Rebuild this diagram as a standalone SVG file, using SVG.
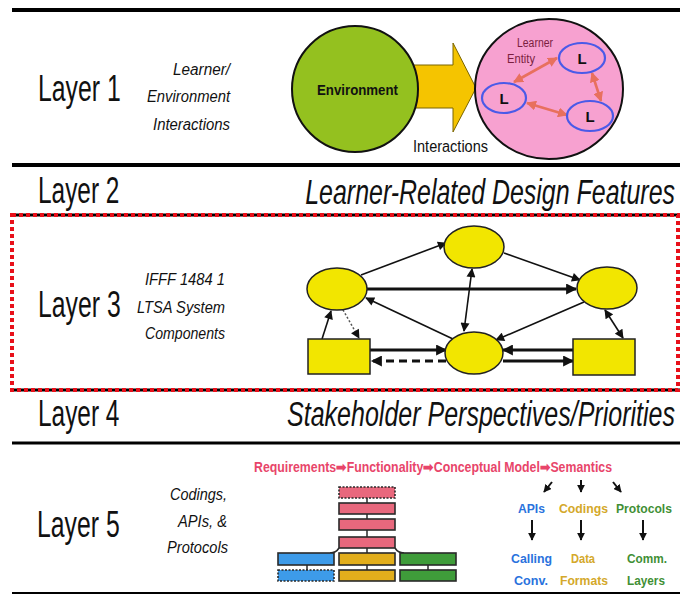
<svg xmlns="http://www.w3.org/2000/svg" width="680" height="595" viewBox="0 0 680 595">
<style>
text{font-family:"Liberation Sans Narrow","Arial Narrow","Liberation Sans",Arial,sans-serif;fill:#111}
.big{font-size:37px}
.sub{font-size:16px;font-style:italic}
.head{font-size:36px;font-style:italic;text-anchor:end}
.sep{stroke:#000;fill:none}
.n3{fill:#f2e600;stroke:#222;stroke-width:1.5}
.thin{stroke:#111;stroke-width:1.6;fill:none}
.thick{stroke:#111;stroke-width:3.2;fill:none}
.sal{stroke:#e8705e;stroke-width:2.6;fill:none}
.lb{fill:#f7a1d0;stroke:#4a5ae8;stroke-width:2.2}
.L{font-size:15px;font-weight:bold;text-anchor:middle;font-family:"Liberation Sans",Arial,sans-serif}
.bar{stroke:#2a2a2a;stroke-width:1.6}
.k5{font-size:13px;font-weight:bold}
</style>
<defs>
<marker id="ah" viewBox="0 0 10 10" refX="9" refY="5" markerWidth="10" markerHeight="9" markerUnits="userSpaceOnUse" orient="auto-start-reverse"><path d="M0,0 L10,5 L0,10 z" fill="#111"/></marker>
<marker id="ahB" viewBox="0 0 10 10" refX="9" refY="5" markerWidth="12" markerHeight="11" markerUnits="userSpaceOnUse" orient="auto-start-reverse"><path d="M0,0 L10,5 L0,10 z" fill="#111"/></marker>
<marker id="ahS" viewBox="0 0 10 10" refX="9" refY="5" markerWidth="10" markerHeight="10" markerUnits="userSpaceOnUse" orient="auto-start-reverse"><path d="M0,0 L10,5 L0,10 z" fill="#e8705e"/></marker>
<marker id="ahK" viewBox="0 0 10 10" refX="9" refY="5" markerWidth="8" markerHeight="8" markerUnits="userSpaceOnUse" orient="auto-start-reverse"><path d="M0,0 L10,5 L0,10 z" fill="#111"/></marker>
</defs>

<!-- separators -->
<g id="separators">
<line class="sep" x1="12" y1="10" x2="680" y2="10" stroke-width="4"/>
<line class="sep" x1="12" y1="165" x2="680" y2="165" stroke-width="4"/>
<line class="sep" x1="10" y1="215" x2="680" y2="215" stroke-width="3"/>
<line class="sep" x1="10" y1="390" x2="680" y2="390" stroke-width="3"/>
<rect x="12" y="215" width="666" height="175" fill="none" stroke="#e8101a" stroke-width="4" stroke-dasharray="4 3"/>
<line class="sep" x1="12" y1="443" x2="680" y2="443" stroke-width="3"/>
<line class="sep" x1="12" y1="593" x2="680" y2="593" stroke-width="2"/>
</g>

<!-- Layer 1 -->
<g id="layer1-label">
<text class="big" transform="translate(38,101) scale(0.67,1)">Layer 1</text>
<text class="sub" x="173" y="75" textLength="57" lengthAdjust="spacingAndGlyphs">Learner/</text>
<text class="sub" x="147" y="102" textLength="83" lengthAdjust="spacingAndGlyphs">Environment</text>
<text class="sub" x="153" y="130" textLength="77" lengthAdjust="spacingAndGlyphs">Interactions</text>
</g>
<g id="interactions-arrow">
<polygon points="412,65 453,65 453,43 476,88 453,132 453,108 412,108" fill="#f5c400" stroke="#7a6500" stroke-width="1"/>
<text x="413" y="152" font-size="16" textLength="75" lengthAdjust="spacingAndGlyphs">Interactions</text>
</g>
<g id="environment">
<circle cx="355" cy="89" r="63" fill="#94c11f" stroke="#111" stroke-width="2"/>
<text x="317" y="95" font-size="15" font-weight="bold" textLength="81" lengthAdjust="spacingAndGlyphs">Environment</text>
</g>
<g id="learner-entity">
<ellipse cx="549" cy="89" rx="74" ry="70" fill="#f7a1d0" stroke="#111" stroke-width="2"/>
<text x="517" y="47" font-size="12" style="fill:#7a1f3f" textLength="36" lengthAdjust="spacingAndGlyphs">Learner</text>
<text x="507" y="63" font-size="12" style="fill:#7a1f3f" textLength="28" lengthAdjust="spacingAndGlyphs">Entity</text>
</g>
<g id="learner-links">
<line class="sal" x1="514" y1="82" x2="557" y2="58" marker-start="url(#ahS)" marker-end="url(#ahS)"/>
<line class="sal" x1="527" y1="103" x2="567" y2="115" marker-start="url(#ahS)" marker-end="url(#ahS)"/>
<line class="sal" x1="592" y1="73" x2="601" y2="101" marker-start="url(#ahS)" marker-end="url(#ahS)"/>
</g>
<g id="L1"><ellipse class="lb" cx="582" cy="58" rx="23" ry="15"/><text class="L" x="582" y="64">L</text></g>
<g id="L2"><ellipse class="lb" cx="504" cy="98" rx="22" ry="15"/><text class="L" x="504" y="104">L</text></g>
<g id="L3"><ellipse class="lb" cx="590" cy="116" rx="23" ry="15"/><text class="L" x="590" y="122">L</text></g>

<!-- Layer 2 -->
<g id="layer2">
<text class="big" transform="translate(38,203) scale(0.66,1)">Layer 2</text>
<text class="head" transform="translate(675,204) scale(0.693,1)">Learner-Related Design Features</text>
</g>

<!-- Layer 3 -->
<g id="layer3-label">
<text class="big" transform="translate(38,317) scale(0.67,1)">Layer 3</text>
<text class="sub" x="145" y="285" textLength="80" lengthAdjust="spacingAndGlyphs">IFFF 1484 1</text>
<text class="sub" x="137" y="313" textLength="88" lengthAdjust="spacingAndGlyphs">LTSA System</text>
<text class="sub" x="145" y="339" textLength="80" lengthAdjust="spacingAndGlyphs">Components</text>
</g>
<g id="connectors">
<line class="thin" x1="361" y1="275" x2="446" y2="243" marker-end="url(#ah)"/>
<line class="thin" x1="504" y1="253" x2="580" y2="280" marker-end="url(#ah)"/>
<line class="thick" x1="367" y1="289" x2="576" y2="289" marker-end="url(#ahB)"/>
<line class="thin" x1="472" y1="269" x2="464" y2="331" marker-start="url(#ah)" marker-end="url(#ah)"/>
<line class="thin" x1="453" y1="339" x2="366" y2="298" marker-end="url(#ah)"/>
<line class="thin" x1="584" y1="302" x2="496" y2="340" marker-end="url(#ah)"/>
<line class="thin" x1="322" y1="339" x2="331" y2="311" marker-end="url(#ah)"/>
<line x1="343" y1="310" x2="359" y2="338" stroke="#555" stroke-width="1.5" stroke-dasharray="2 2" marker-end="url(#ah)"/>
<line class="thick" x1="370" y1="350" x2="446" y2="350" marker-end="url(#ahB)"/>
<line class="thick" x1="446" y1="361" x2="372" y2="361" stroke-dasharray="8 5" marker-end="url(#ahB)"/>
<line class="thick" x1="573" y1="350" x2="503" y2="350" marker-end="url(#ahB)"/>
<line class="thick" x1="503" y1="361" x2="573" y2="361" marker-end="url(#ahB)"/>
<line class="thin" x1="605" y1="310" x2="623" y2="338" marker-start="url(#ah)" marker-end="url(#ah)"/>
</g>
<g id="n-top"><ellipse class="n3" cx="474" cy="247" rx="30" ry="21"/></g>
<g id="n-left"><ellipse class="n3" cx="337" cy="289" rx="30" ry="21"/></g>
<g id="n-right"><ellipse class="n3" cx="607" cy="288" rx="30" ry="21"/></g>
<g id="n-bottom"><ellipse class="n3" cx="474" cy="353" rx="29" ry="21"/></g>
<g id="r-left"><rect class="n3" x="308" y="339" width="62" height="35"/></g>
<g id="r-right"><rect class="n3" x="573" y="339" width="62" height="36"/></g>

<!-- Layer 4 -->
<g id="layer4">
<text class="big" transform="translate(38,426) scale(0.66,1)">Layer 4</text>
<text class="head" transform="translate(675,426) scale(0.695,1)">Stakeholder Perspectives/Priorities</text>
</g>

<!-- Layer 5 -->
<g id="layer5-label">
<text class="big" transform="translate(37,537) scale(0.67,1)">Layer 5</text>
<text class="sub" x="170" y="500" textLength="57" lengthAdjust="spacingAndGlyphs">Codings,</text>
<text class="sub" x="178" y="527" textLength="49" lengthAdjust="spacingAndGlyphs">APIs, &amp;</text>
<text class="sub" x="167" y="553" textLength="61" lengthAdjust="spacingAndGlyphs">Protocols</text>
</g>
<g id="chain">
<text class="k5" x="254" y="472" style="fill:#e8456a;font-size:14px" textLength="358" lengthAdjust="spacingAndGlyphs">Requirements➡Functionality➡Conceptual Model➡Semantics</text>
</g>
<g id="stack">
<line x1="367" y1="498" x2="367" y2="570" stroke="#2a2a2a" stroke-width="1.5"/>
<line x1="307" y1="565" x2="307" y2="570" stroke="#2a2a2a" stroke-width="1.5"/>
<line x1="428" y1="565" x2="428" y2="570" stroke="#2a2a2a" stroke-width="1.5"/>
<path d="M339,548 Q336,553 330,553 M395,548 Q398,553 404,553" fill="none" stroke="#2a2a2a" stroke-width="1.5"/>
<rect class="bar" x="339" y="487" width="56" height="11" fill="#e8687d" stroke-dasharray="2 1.5"/>
<rect class="bar" x="339" y="503" width="56" height="11" fill="#e8687d"/>
<rect class="bar" x="339" y="519" width="56" height="11" fill="#e8687d"/>
<rect class="bar" x="339" y="537" width="56" height="11" fill="#e8687d"/>
<rect class="bar" x="278" y="553" width="56" height="12" fill="#3d9be9"/>
<rect class="bar" x="339" y="553" width="56" height="12" fill="#e2ae1c"/>
<rect class="bar" x="400" y="553" width="56" height="12" fill="#3f9c3a"/>
<rect class="bar" x="278" y="570" width="56" height="11" fill="#3d9be9" stroke-dasharray="2 1.5"/>
<rect class="bar" x="339" y="570" width="56" height="11" fill="#e2ae1c"/>
<rect class="bar" x="400" y="570" width="56" height="11" fill="#3f9c3a"/>
</g>
<g id="branches">
<line x1="552" y1="482" x2="544" y2="492" stroke="#111" stroke-width="2" marker-end="url(#ahK)"/>
<line x1="581" y1="480" x2="581" y2="492" stroke="#111" stroke-width="2" marker-end="url(#ahK)"/>
<line x1="613" y1="482" x2="621" y2="492" stroke="#111" stroke-width="2" marker-end="url(#ahK)"/>
<line x1="532" y1="520" x2="532" y2="540" stroke="#111" stroke-width="2" marker-end="url(#ahK)"/>
<line x1="581" y1="520" x2="581" y2="540" stroke="#111" stroke-width="2" marker-end="url(#ahK)"/>
<line x1="643" y1="520" x2="643" y2="540" stroke="#111" stroke-width="2" marker-end="url(#ahK)"/>
</g>
<g id="apis">
<text class="k5" x="518" y="513" style="fill:#2a72dd" textLength="27" lengthAdjust="spacingAndGlyphs">APIs</text>
<text class="k5" x="511" y="563" style="fill:#2a72dd" textLength="41" lengthAdjust="spacingAndGlyphs">Calling</text>
<text class="k5" x="514" y="585" style="fill:#2a72dd" textLength="34" lengthAdjust="spacingAndGlyphs">Conv.</text>
</g>
<g id="codings">
<text class="k5" x="559" y="513" style="fill:#d4a82a" textLength="49" lengthAdjust="spacingAndGlyphs">Codings</text>
<text class="k5" x="571" y="563" style="fill:#d4a82a" textLength="24" lengthAdjust="spacingAndGlyphs">Data</text>
<text class="k5" x="560" y="585" style="fill:#d4a82a" textLength="48" lengthAdjust="spacingAndGlyphs">Formats</text>
</g>
<g id="protocols">
<text class="k5" x="616" y="513" style="fill:#3f8f35" textLength="56" lengthAdjust="spacingAndGlyphs">Protocols</text>
<text class="k5" x="627" y="563" style="fill:#3f8f35" textLength="40" lengthAdjust="spacingAndGlyphs">Comm.</text>
<text class="k5" x="627" y="585" style="fill:#3f8f35" textLength="38" lengthAdjust="spacingAndGlyphs">Layers</text>
</g>
</svg>
